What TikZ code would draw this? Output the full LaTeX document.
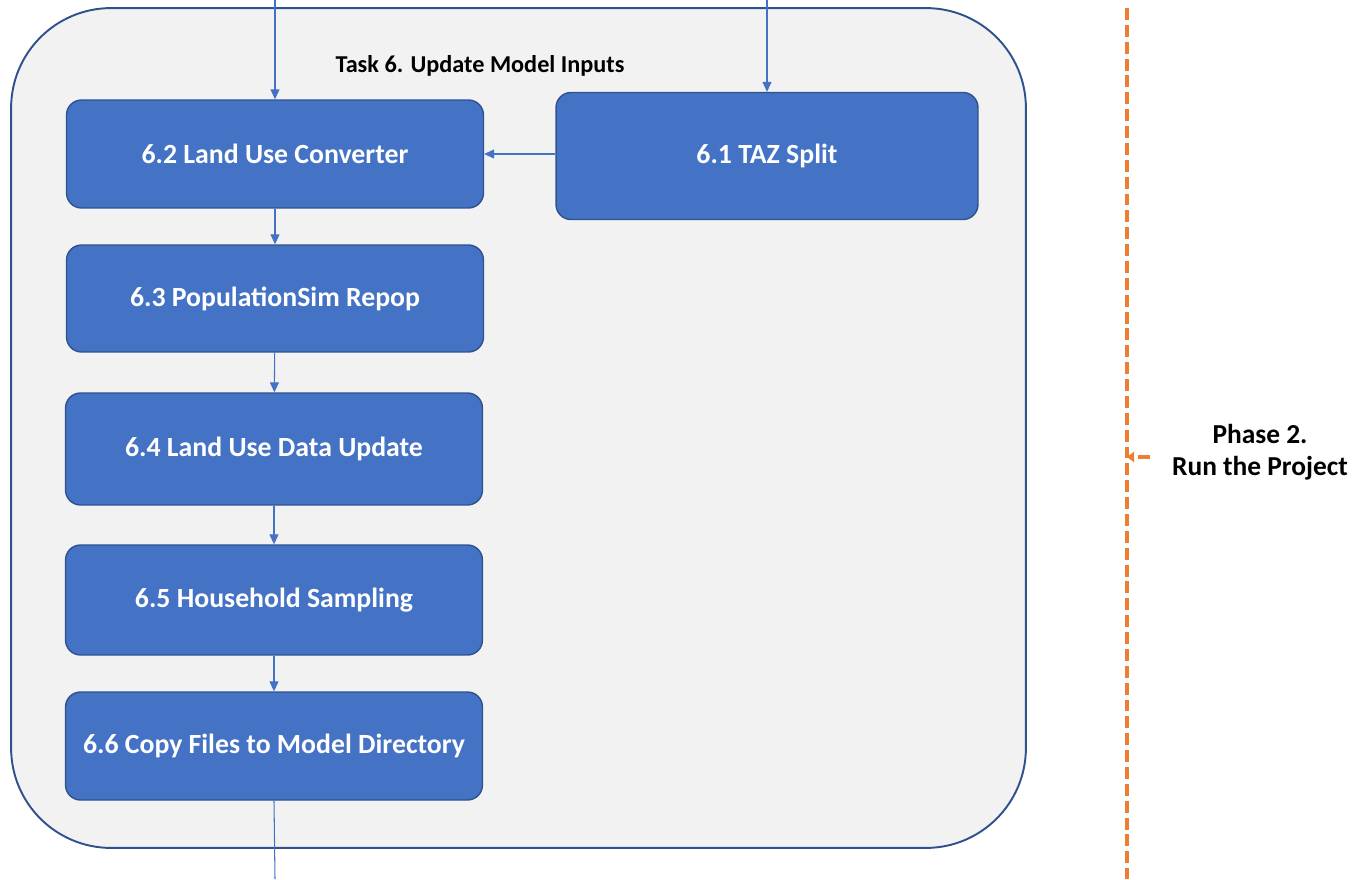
\documentclass[tikz,border=0pt]{standalone}
\usepackage{fontspec}
\setmainfont{Carlito}
\usetikzlibrary{arrows.meta,positioning}
\definecolor{taskblue}{HTML}{4472C4}
\definecolor{edgeblue}{HTML}{2F528F}
\definecolor{panelgray}{HTML}{F2F2F2}
\definecolor{phaseorange}{HTML}{ED7D31}
\tikzset{
  panel/.style={draw=edgeblue,fill=panelgray,line width=1.1pt,rounded corners=2cm,minimum width=20.3cm,minimum height=16.8cm},
  stepbox/.style={draw=edgeblue,fill=taskblue,line width=0.8pt,rounded corners=0.3cm,text=white,font=\fontsize{15.8}{19}\selectfont\bfseries,minimum width=8.34cm,minimum height=2.16cm,align=center},
  link/.style={draw=taskblue,line width=0.6pt,-{Triangle[length=0.2cm,width=0.18cm]}},
  phase/.style={draw=phaseorange,line width=2.3pt,dash pattern=on 6.8pt off 2.8pt}
}

\begin{document}
\begin{tikzpicture}[x=0.02cm,y=-0.02cm]
  \useasboundingbox (0,0) rectangle (1355,879);
  \node[panel] (task) at (518.5,428) {};
  \node[font=\fontsize{13.8}{17}\selectfont\bfseries] (title) at (480,66) {Task 6. Update Model Inputs};

  \node[stepbox,minimum width=8.44cm,minimum height=2.54cm] (taz) at (767,156) {6.1 TAZ Split};
  \node[stepbox] (conv) at (275,154) {6.2 Land Use Converter};
  \node[stepbox,minimum height=2.14cm] (repop) at (275,298.5) {6.3 PopulationSim Repop};
  \node[stepbox,minimum height=2.24cm] (lu) at (274,449) {6.4 Land Use Data Update};
  \node[stepbox,minimum height=2.2cm] (hh) at (274,600) {6.5 Household Sampling};
  \node[stepbox] (copy) at (274,746) {6.6 Copy Files to Model Directory};

  \coordinate (inA) at (275,0);
  \coordinate (inB) at (767,0);
  \coordinate (out) at (275,879);

  \draw[link] (inA) -- (conv.north);
  \draw[link] (inB) -- (taz.north);
  \draw[link] (taz.west |- conv.east) -- (conv.east);
  \draw[link] (conv) -- (repop);
  \draw[link] (repop) -- (lu);
  \draw[link] (lu) -- (hh);
  \draw[link] (hh) -- (copy);
  \draw[draw=taskblue,line width=0.6pt] (copy.south) -- (out);

  % phase divider
  \coordinate (ph top) at (1127,8);
  \coordinate (ph bot) at (1127,879);
  \coordinate (ph mid) at (1127,457);
  \draw[phase] (ph top) -- (ph bot);
  \node[font=\fontsize{15.6}{18.5}\selectfont\bfseries,align=center] (phase2) at (1260,452) {Phase 2.\\Run the Project};
  \draw[phase,line width=1.8pt,-{Triangle[length=0.14cm,width=0.2cm]}] (1150,457) -- (ph mid);
\end{tikzpicture}
\end{document}
